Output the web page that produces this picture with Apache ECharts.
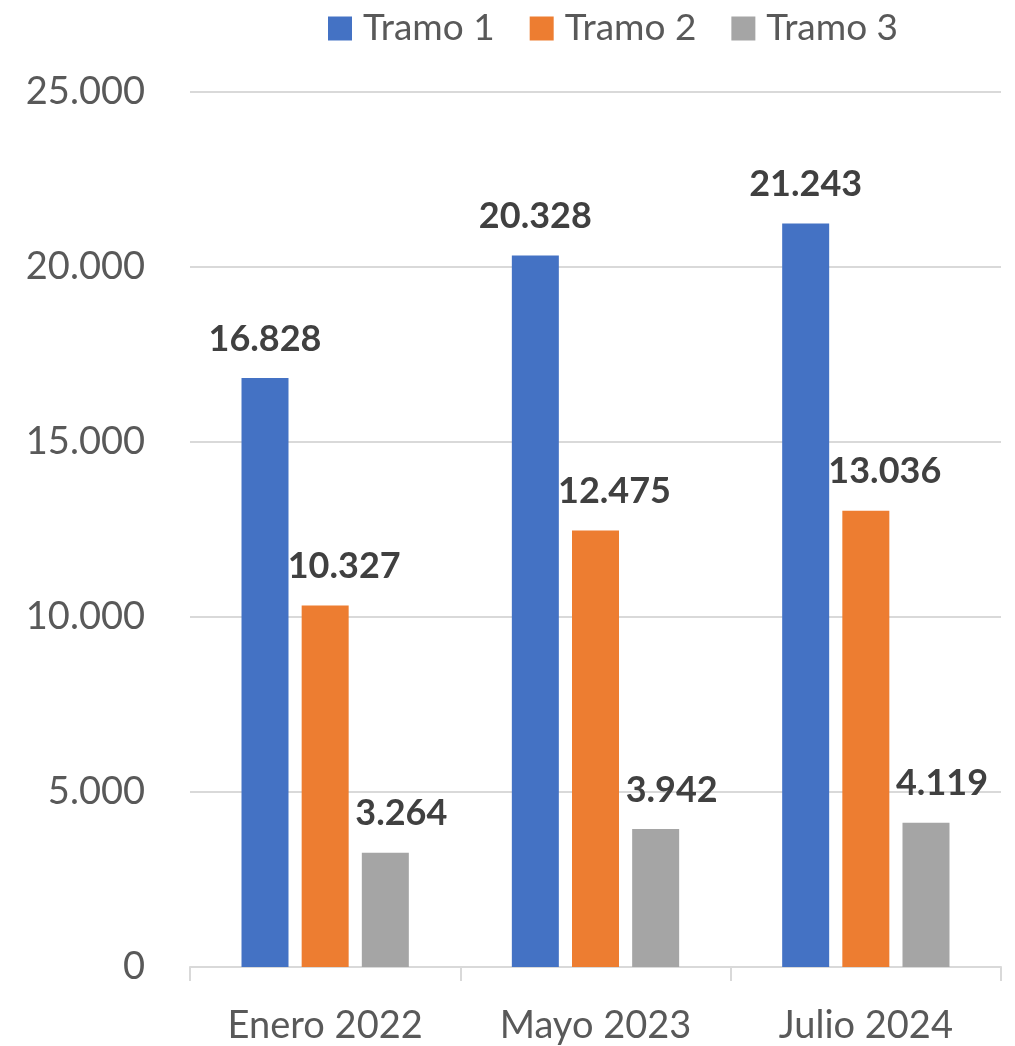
<!DOCTYPE html>
<html>
<head>
<meta charset="utf-8">
<script src="https://cdn.jsdelivr.net/npm/echarts@6/dist/echarts.min.js"></script>
<style>
  html, body { margin: 0; padding: 0; background: #fff; }
  #chart { width: 1015px; height: 1046px; }
</style>
</head>
<body>
<div id="chart"></div>
<script>
  // datos
  const categorias = ['Enero 2022', 'Mayo 2023', 'Julio 2024'];
  const tramo1 = [16828, 20328, 21243];
  const tramo2 = [10327, 12475, 13036];
  const tramo3 = [3264, 3942, 4119];
  const nombres = ['Tramo 1', 'Tramo 2', 'Tramo 3'];
  const colores = ['#4472C4', '#ED7D31', '#A5A5A5'];

  const fmt = v => String(v).replace(/\B(?=(\d{3})+(?!\d))/g, '.');
  const fuente = 'Lato, "Open Sans", sans-serif';

  let myChart = echarts.init(document.getElementById('chart'));

  const serie = (nombre, datos, color, dx) => ({
    name: nombre,
    type: 'bar',
    data: datos,
    barWidth: 47,
    barGap: '28%',
    itemStyle: { color: color },
    label: {
      show: true,
      position: 'top',
      distance: 21,
      offset: [dx, 0],
      formatter: p => fmt(p.value),
      color: '#404040',
      fontFamily: fuente,
      fontWeight: 'bold',
      fontSize: 36
    }
  });

  myChart.setOption({
    animation: false,
    backgroundColor: '#ffffff',
    textStyle: { fontFamily: fuente },
    legend: {
      data: nombres,
      left: 328,
      top: 10,
      padding: 0,
      itemWidth: 24,
      itemHeight: 24,
      itemGap: 35,
      icon: 'rect',
      textStyle: { color: '#595959', fontSize: 37, fontFamily: fuente, padding: [0, 0, 22, 6] }
    },
    grid: { left: 190, right: 14, top: 92, bottom: 79, containLabel: false },
    xAxis: {
      type: 'category',
      data: categorias,
      axisLine: { lineStyle: { color: '#d9d9d9', width: 2 } },
      axisTick: { show: true, length: 14, lineStyle: { color: '#d9d9d9', width: 2 } },
      axisLabel: { color: '#595959', fontSize: 38, fontFamily: fuente, margin: 40 }
    },
    yAxis: {
      type: 'value',
      min: 0,
      max: 25000,
      interval: 5000,
      axisLine: { show: false },
      axisTick: { show: false },
      splitLine: { lineStyle: { color: '#d9d9d9', width: 2 } },
      axisLabel: {
        color: '#595959',
        fontSize: 38,
        fontFamily: fuente,
        margin: 45,
        formatter: v => fmt(v)
      }
    },
    series: [
      serie(nombres[0], tramo1, colores[0], 0),
      serie(nombres[1], tramo2, colores[1], 19),
      serie(nombres[2], tramo3, colores[2], 16)
    ]
  });
</script>
</body>
</html>
